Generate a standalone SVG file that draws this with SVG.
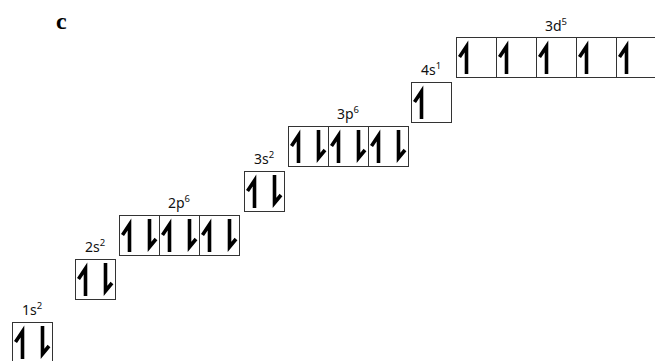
<svg xmlns="http://www.w3.org/2000/svg" width="655" height="361" viewBox="0 0 655 361">
<defs>
<style>
.box{fill:#fff;stroke:#333;stroke-width:1}
.arr{fill:none;stroke:#000;stroke-width:3.6;stroke-linejoin:miter;stroke-miterlimit:6;stroke-linecap:butt}
.lbl{font-family:"Noto Sans","Open Sans",sans-serif;font-size:14px;fill:#111;text-anchor:middle}
.sup{font-size:9.5px}
.tag{font-family:"Liberation Serif",serif;font-weight:bold;font-size:24px;fill:#000}
</style>
<path id="up" class="arr" d="M3.5,20 L10.5,9.5 L10.5,37"/>
<path id="dn" class="arr" d="M30.5,4 L30.5,32 L37,24"/>
<g id="cell2"><rect class="box" x="0.5" y="0.5" width="40" height="40"/><use href="#up"/><use href="#dn"/></g>
<g id="cell1"><rect class="box" x="0.5" y="0.5" width="40" height="40"/><use href="#up"/></g>
</defs>
<rect width="655" height="361" fill="#fff"/>
<text class="tag" x="56" y="29">c</text>

<g id="s1">
<use href="#cell2" x="12" y="322"/>
<text class="lbl" x="32" y="315">1s<tspan class="sup" dy="-6">2</tspan></text>
</g>
<g id="s2">
<use href="#cell2" x="75" y="259"/>
<text class="lbl" x="95" y="252">2s<tspan class="sup" dy="-6">2</tspan></text>
</g>
<g id="p2">
<use href="#cell2" x="119" y="215"/>
<use href="#cell2" x="159" y="215"/>
<use href="#cell2" x="199" y="215"/>
<text class="lbl" x="179" y="208">2p<tspan class="sup" dy="-6">6</tspan></text>
</g>
<g id="s3">
<use href="#cell2" x="244" y="171"/>
<text class="lbl" x="264" y="164">3s<tspan class="sup" dy="-6">2</tspan></text>
</g>
<g id="p3">
<use href="#cell2" x="288" y="126"/>
<use href="#cell2" x="328" y="126"/>
<use href="#cell2" x="368" y="126"/>
<text class="lbl" x="348" y="119">3p<tspan class="sup" dy="-6">6</tspan></text>
</g>
<g id="s4">
<use href="#cell1" x="411" y="82"/>
<text class="lbl" x="431" y="75">4s<tspan class="sup" dy="-6">1</tspan></text>
</g>
<g id="d3">
<use href="#cell1" x="456" y="37"/>
<use href="#cell1" x="496" y="37"/>
<use href="#cell1" x="536" y="37"/>
<use href="#cell1" x="576" y="37"/>
<use href="#cell1" x="616" y="37"/>
<text class="lbl" x="556" y="31">3d<tspan class="sup" dy="-6">5</tspan></text>
</g>
<g id="connectors"/>
</svg>
